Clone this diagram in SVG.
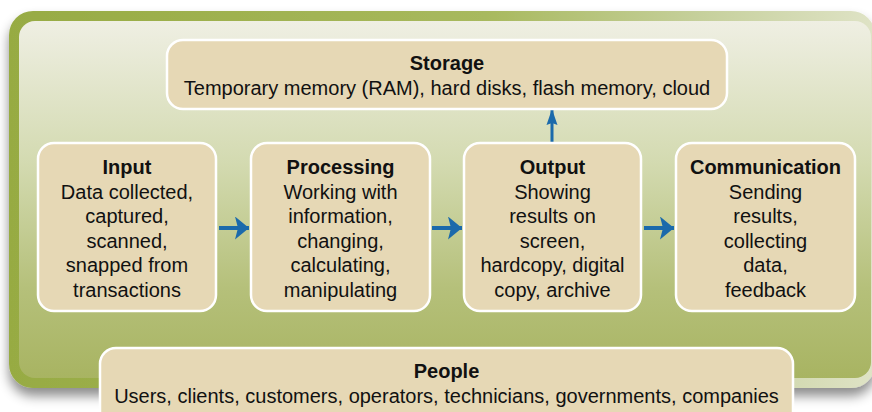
<svg xmlns="http://www.w3.org/2000/svg" width="872" height="412" viewBox="0 0 872 412">
<defs>
<linearGradient id="border" x1="0" y1="0" x2="1" y2="0">
<stop offset="0" stop-color="#97ab43"/>
<stop offset="0.55" stop-color="#a8b95e"/>
<stop offset="0.8" stop-color="#c6d09c"/>
<stop offset="1" stop-color="#dfe3c6"/>
</linearGradient>
<linearGradient id="panel" x1="0" y1="0" x2="0" y2="1">
<stop offset="0" stop-color="#efefe3"/>
<stop offset="0.4" stop-color="#d3dab0"/>
<stop offset="0.75" stop-color="#b5c07a"/>
<stop offset="1" stop-color="#a8b462"/>
</linearGradient>
<filter id="shadow" x="-5%" y="-5%" width="110%" height="120%">
<feDropShadow dx="0" dy="8" stdDeviation="6" flood-color="#000" flood-opacity="0.45"/>
</filter>
<marker id="ah" viewBox="0 0 14 23" refX="14" refY="11.5" markerWidth="3.5" markerHeight="5.75" orient="auto" markerUnits="strokeWidth">
<path d="M0,0 L14,11.5 L0,23 L3,11.5 z" fill="#1b6aab"/>
</marker>
<marker id="ah2" viewBox="0 0 16 11" refX="16" refY="5.5" markerWidth="5.333" markerHeight="3.667" orient="auto" markerUnits="strokeWidth">
<path d="M0,0 L16,5.5 L0,11 L2,5.5 z" fill="#1b6aab"/>
</marker>
<style>
.box{fill:#e6d8b5;stroke:#ffffff;stroke-width:2.5}
.t{font-family:"Liberation Sans",Arial,sans-serif;font-size:20px;fill:#111;text-anchor:middle}
.b{font-weight:bold}
.arr{stroke:#1b6aab;stroke-width:4;fill:none}
</style>
</defs>
<rect x="9" y="11" width="866" height="377" rx="24" fill="url(#border)" filter="url(#shadow)"/>
<rect x="19" y="21" width="852" height="357" rx="16" fill="url(#panel)"/>

<g id="connectors">
<line class="arr" x1="219" y1="228" x2="249" y2="228" marker-end="url(#ah)"/>
<line class="arr" x1="432" y1="228" x2="462" y2="228" marker-end="url(#ah)"/>
<line class="arr" x1="644" y1="228" x2="674" y2="228" marker-end="url(#ah)"/>
<line class="arr" x1="552" y1="143" x2="552" y2="109" style="stroke-width:3" marker-end="url(#ah2)"/>
</g>

<g id="storage">
<rect class="box" x="167" y="40" width="560" height="69" rx="16"/>
<text class="t b" x="447" y="70">Storage</text>
<text class="t" x="447" y="95">Temporary memory (RAM), hard disks, flash memory, cloud</text>
</g>

<g id="input">
<rect class="box" x="38" y="143" width="178" height="168" rx="16"/>
<text class="t b" x="127" y="174">Input</text>
<text class="t" x="127" y="199">Data collected,</text>
<text class="t" x="127" y="223">captured,</text>
<text class="t" x="127" y="248">scanned,</text>
<text class="t" x="127" y="272">snapped from</text>
<text class="t" x="127" y="297">transactions</text>
</g>

<g id="processing">
<rect class="box" x="251" y="143" width="179" height="168" rx="16"/>
<text class="t b" x="340.5" y="174">Processing</text>
<text class="t" x="340.5" y="199">Working with</text>
<text class="t" x="340.5" y="223">information,</text>
<text class="t" x="340.5" y="248">changing,</text>
<text class="t" x="340.5" y="272">calculating,</text>
<text class="t" x="340.5" y="297">manipulating</text>
</g>

<g id="output">
<rect class="box" x="464" y="143" width="177" height="168" rx="16"/>
<text class="t b" x="552.5" y="174">Output</text>
<text class="t" x="552.5" y="199">Showing</text>
<text class="t" x="552.5" y="223">results on</text>
<text class="t" x="552.5" y="248">screen,</text>
<text class="t" x="552.5" y="272">hardcopy, digital</text>
<text class="t" x="552.5" y="297">copy, archive</text>
</g>

<g id="communication">
<rect class="box" x="676" y="143" width="179" height="168" rx="16"/>
<text class="t b" x="765.5" y="174">Communication</text>
<text class="t" x="765.5" y="199">Sending</text>
<text class="t" x="765.5" y="223">results,</text>
<text class="t" x="765.5" y="248">collecting</text>
<text class="t" x="765.5" y="272">data,</text>
<text class="t" x="765.5" y="297">feedback</text>
</g>

<g id="people">
<rect class="box" x="100" y="348" width="693" height="90" rx="16"/>
<text class="t b" x="446.5" y="378">People</text>
<text class="t" x="446.5" y="403">Users, clients, customers, operators, technicians, governments, companies</text>
</g>
</svg>
